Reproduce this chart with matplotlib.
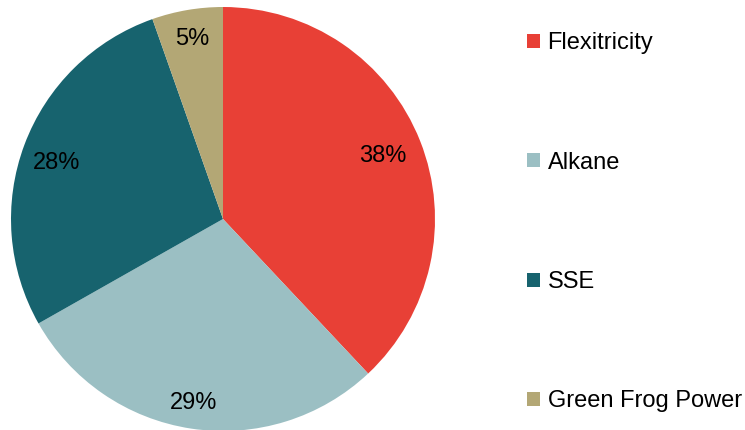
import numpy as np
import matplotlib
matplotlib.use('Agg')
import matplotlib.pyplot as plt

plt.rcParams['font.family'] = ['Liberation Sans', 'DejaVu Sans']

labels = ['Flexitricity', 'Alkane', 'SSE', 'Green Frog Power']
shares = [38.0, 28.8, 27.8, 5.4]
colors = ['#E84036', '#9BBFC3', '#17636E', '#B3A775']
# position of each percentage label: radius (fraction) and angle nudge (deg)
label_r = [0.81, 0.88, 0.83, 0.86]
label_dang = [0, -0.5, 2.0, 0]

W, H = 745, 430
fig = plt.figure(figsize=(W / 100, H / 100), dpi=100)

# pie centre (223, 211 from bottom), radius 212 px
cx, cy, r = 223, 211, 212
ax = fig.add_axes([(cx - r) / W, (cy - r) / H, 2 * r / W, 2 * r / H])

wedges, _ = ax.pie(shares, colors=colors, startangle=90, counterclock=False,
                   radius=1, wedgeprops=dict(linewidth=0))
for w in wedges:
    w.set_clip_on(False)

for w, s, d, da in zip(wedges, shares, label_r, label_dang):
    ang = np.deg2rad((w.theta1 + w.theta2) / 2 + da)
    ax.text(d * np.cos(ang), d * np.sin(ang), f'{s:.0f}%', ha='center',
            va='center', fontsize=17, color='black')

ax.set_xlim(-1, 1)
ax.set_ylim(-1, 1)
ax.set_aspect('equal')
ax.axis('off')

fig.legend(wedges, labels, loc='upper left',
           bbox_to_anchor=(518 / W, 1 - 23 / H), frameon=False,
           fontsize=17, handlelength=0.55, handleheight=0.55,
           handletextpad=0.3, labelspacing=4.12, borderaxespad=0)

fig.savefig('out.png', dpi=100)
